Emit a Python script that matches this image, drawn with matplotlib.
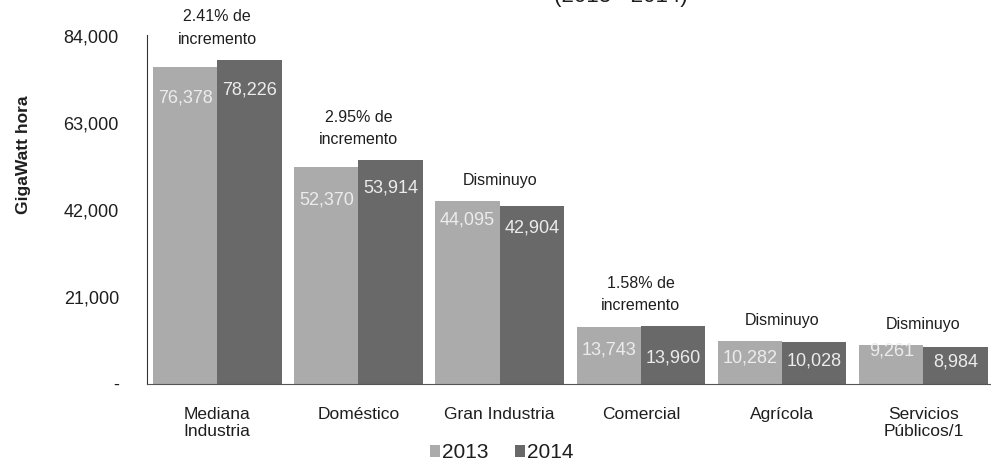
import matplotlib.pyplot as plt
import numpy as np
from matplotlib.ticker import FuncFormatter

plt.rcParams['font.family'] = ['Liberation Sans', 'DejaVu Sans']

categories = ['Mediana\nIndustria', 'Doméstico', 'Gran Industria', 'Comercial',
              'Agrícola', 'Servicios\nPúblicos/1']
values_2013 = [76378, 52370, 44095, 13743, 10282, 9261]
values_2014 = [78226, 53914, 42904, 13960, 10028, 8984]
notes = ['2.41% de\nincremento', '2.95% de\nincremento', 'Disminuyo',
         '1.58% de\nincremento', 'Disminuyo', 'Disminuyo']
yticks = [0, 21000, 42000, 63000, 84000]

# label offsets below bar top, in pixels
off_2013 = [31, 33, 19, 23, 17, 6]
off_2014 = [30, 28, 22, 32, 19, 15]

c13 = '#ababab'
c14 = '#696969'
txt = '#1e1e1e'

fig = plt.figure(figsize=(9.91, 4.68), dpi=100)
ax = fig.add_axes([0.148, 0.18, 0.855, 0.748])

x = np.arange(len(categories))
w = 0.455
b13 = ax.bar(x - w / 2, values_2013, w, color=c13, label='2013')
b14 = ax.bar(x + w / 2, values_2014, w, color=c14, label='2014')

for i in range(len(x)):
    ax.annotate(f'{values_2013[i]:,}', (x[i] - w / 2, values_2013[i]),
                xytext=(0, -off_2013[i]), textcoords='offset pixels',
                ha='center', va='center', color='#ececec', fontsize=13)
    ax.annotate(f'{values_2014[i]:,}', (x[i] + w / 2, values_2014[i]),
                xytext=(0, -off_2014[i]), textcoords='offset pixels',
                ha='center', va='center', color='#ececec', fontsize=13)
    top = max(values_2013[i], values_2014[i])
    ax.annotate(notes[i], (x[i], top), xytext=(0, 13), textcoords='offset pixels',
                ha='center', va='bottom', color=txt, fontsize=11.5,
                linespacing=1.6, annotation_clip=False)

ax.set_xlim(-0.5, len(x) - 0.5)
ax.set_ylim(0, 84500)
ax.set_yticks(yticks)
ax.yaxis.set_major_formatter(FuncFormatter(lambda v, p: '-' if v == 0 else f'{int(v):,}'))
ax.set_xticks(x)
ax.set_xticklabels(categories, fontsize=12.5, color=txt, linespacing=1.1)
ax.tick_params(axis='y', length=0, labelsize=13, labelcolor=txt, pad=20)
ax.tick_params(axis='x', length=0, pad=17)
ax.set_ylabel('GigaWatt hora', fontsize=12.5, fontweight='bold', color=txt)
ax.yaxis.set_label_coords(-0.137, 0.655)

for s in ['top', 'right']:
    ax.spines[s].set_visible(False)
ax.spines['left'].set_color('#333333')
ax.spines['bottom'].set_color('#555555')
ax.spines['left'].set_bounds(0, 84300)

ax.legend(loc='center', bbox_to_anchor=(0.419, -0.197), ncol=2, frameon=False,
          fontsize=15, handlelength=0.5, handleheight=0.5, handletextpad=0.1,
          columnspacing=1.25, labelcolor=txt)

fig.text(0.627, 0.985, '(2013 - 2014)', ha='center', va='bottom', fontsize=16, color=txt)

fig.savefig('out.png', dpi=100)
